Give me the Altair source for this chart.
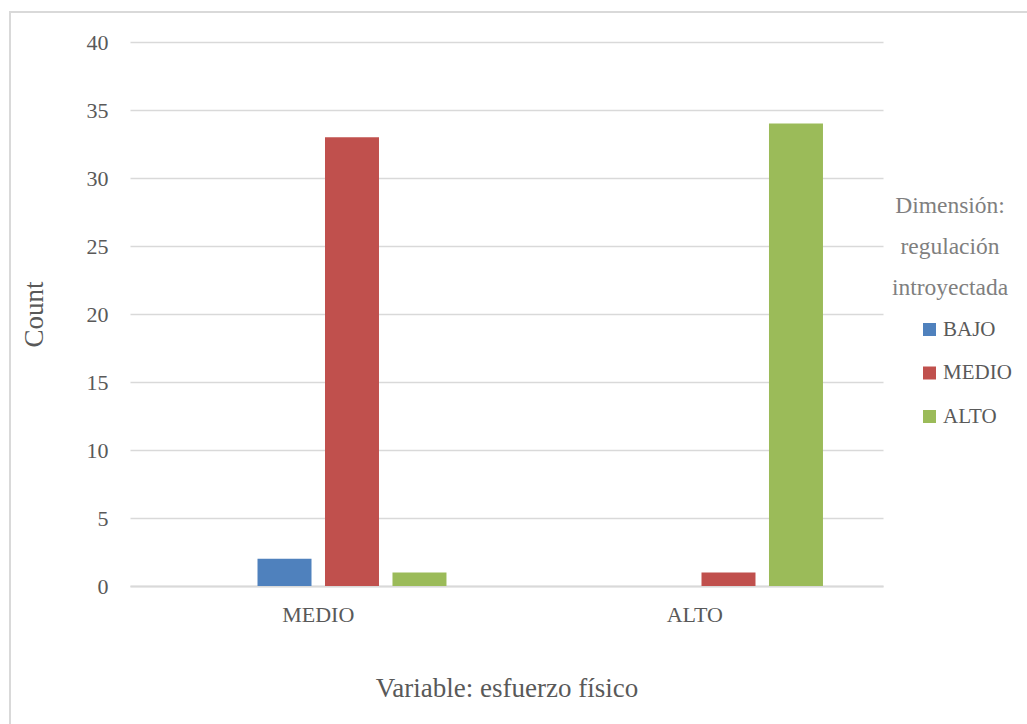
import altair as alt
import pandas as pd

# Counts of "Dimensión: regulación introyectada" levels within each level of "esfuerzo físico"
categorias = ["MEDIO", "ALTO"]
series = ["BAJO", "MEDIO", "ALTO"]
conteos = {
    "BAJO": [2, 0],
    "MEDIO": [33, 1],
    "ALTO": [1, 34],
}
colores = ["#4f81bd", "#c0504d", "#9bbb59"]
titulo_leyenda = ["Dimensión:", "regulación", "introyectada"]

filas = []
for s in series:
    for c, v in zip(categorias, conteos[s]):
        filas.append({"categoria": c, "serie": s, "conteo": v})
df = pd.DataFrame(filas)

# an empty leading slot in each group, as in the original workbook layout
slots = [" "] + series

W, H = 753, 544
TXT = "#595959"
GRID = "#d9d9d9"
FONT = "Liberation Serif"

bars = alt.Chart(df).mark_bar().encode(
    x=alt.X(
        "categoria:N",
        sort=categorias,
        scale=alt.Scale(paddingInner=0.283, paddingOuter=0.1415),
        axis=alt.Axis(
            title="Variable: esfuerzo físico",
            labelAngle=0,
            labelFontSize=22,
            labelColor=TXT,
            labelFont=FONT,
            labelPadding=18,
            titleFontSize=27,
            titleFont=FONT,
            titleFontWeight="normal",
            titleColor=TXT,
            titlePadding=50,
            domainColor=GRID,
            domainWidth=2,
            ticks=False,
            grid=False,
        ),
    ),
    xOffset=alt.XOffset(
        "serie:N",
        scale=alt.Scale(domain=slots, paddingInner=0.2, paddingOuter=0.1),
    ),
    y=alt.Y(
        "conteo:Q",
        scale=alt.Scale(domain=[0, 40]),
        axis=alt.Axis(
            title="Count",
            values=list(range(0, 41, 5)),
            labelFontSize=22,
            labelColor=TXT,
            labelFont=FONT,
            labelPadding=22,
            titleFontSize=27,
            titleFont=FONT,
            titleFontWeight="normal",
            titleColor=TXT,
            titlePadding=38,
            domain=False,
            ticks=False,
            gridColor=GRID,
            gridWidth=1.5,
        ),
    ),
    color=alt.Color(
        "serie:N",
        scale=alt.Scale(domain=series, range=colores),
        legend=alt.Legend(
            title=None,
            orient="none",
            legendX=789,
            legendY=277,
            symbolType="square",
            symbolSize=169,
            symbolStrokeWidth=0,
            labelFontSize=21,
            labelFont=FONT,
            labelColor=TXT,
            labelOffset=3,
            rowPadding=21.5,
        ),
    ),
)

# legend heading, three centred lines
heading = alt.Chart(pd.DataFrame({"t": ["\n".join(titulo_leyenda)]})).mark_text(
    font=FONT,
    fontSize=23.5,
    color="#7f7f7f",
    align="center",
    baseline="alphabetic",
    lineBreak="\n",
    lineHeight=41,
).encode(text="t:N", x=alt.value(820), y=alt.value(171))

# light frame around the chart
frame = alt.Chart(pd.DataFrame({"k": [0]})).mark_rect(
    fill=None, stroke=GRID, strokeWidth=2
).encode(
    x=alt.value(-120), x2=alt.value(920), y=alt.value(-30), y2=alt.value(720)
)

chart = alt.layer(frame, bars, heading).properties(
    width=W,
    height=H,
    background="white",
    padding={"left": 130, "top": 42, "right": 144, "bottom": 138},
    autosize=alt.AutoSizeParams(type="none"),
).configure_view(stroke=None, strokeWidth=0)

chart.save("out.html", embed_options={"renderer": "svg", "actions": False})
